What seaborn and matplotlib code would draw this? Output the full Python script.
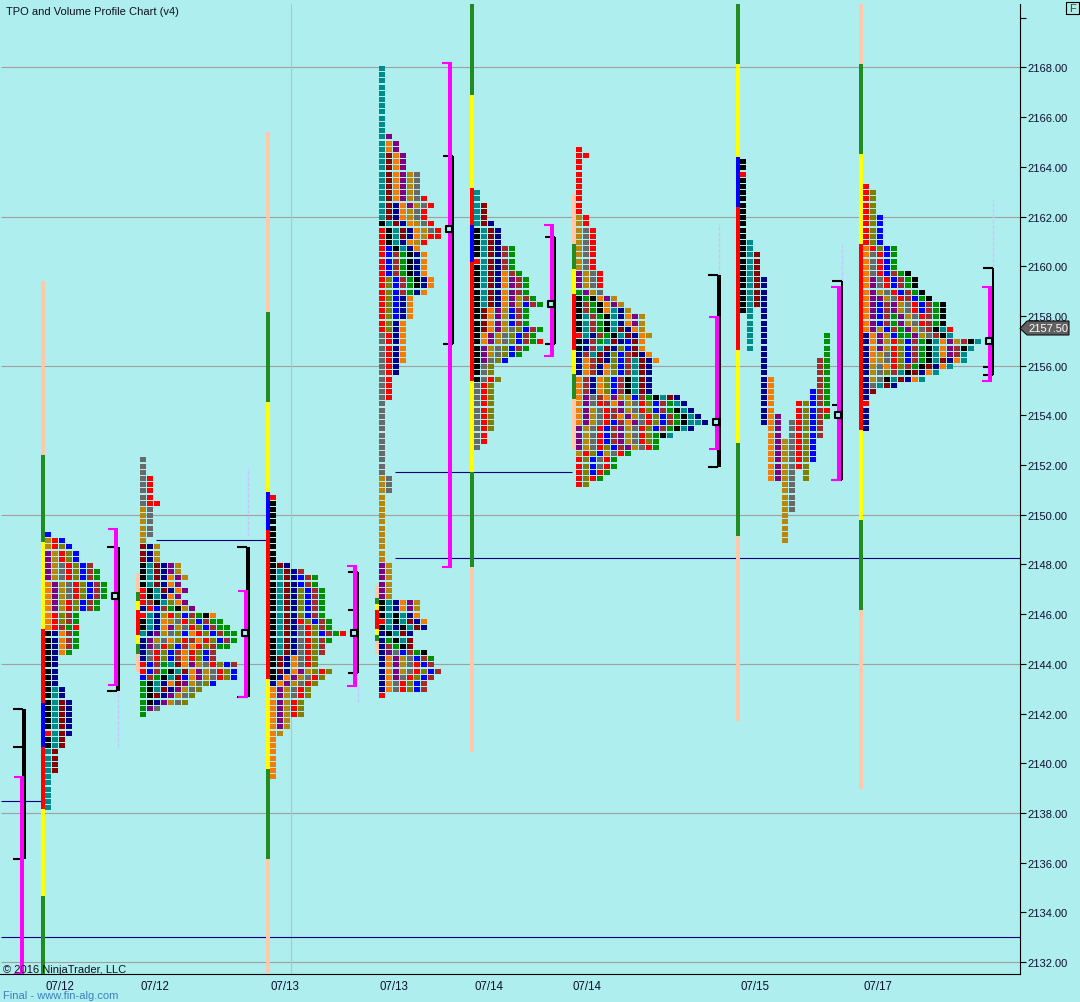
import numpy as np
import pandas as pd
import matplotlib
matplotlib.use("Agg")
import matplotlib.pyplot as plt
from matplotlib.path import Path
from matplotlib.patches import Polygon, Rectangle
import seaborn as sns

BG = "#AFEEEE"
PALETTE = {
    "R": "#FF0000", "D": "#8B0000", "B": "#A52A2A", "O": "#F57C00", "G": "#B8860B",
    "L": "#808000", "N": "#009000", "U": "#0000FF", "V": "#00008B", "P": "#800080",
    "T": "#008B8B", "K": "#000000", "Y": "#696969",
}
FOREST, YEL, RED, BLUE, PEACH = "#228B22", "#FFFF00", "#FF0000", "#0000FF", "#FFC8AA"

# one string per price row (0.25 apart), top row first; '.' is an empty slot
PROFILE_1 = ["U", "GRU", "GRLU", "PGRLU", "PGRLU", "PGYRLUB", "PGYRLUBN", "PGYRLUBN",
    "OPGYRLUBN", "OPGYRLUBN", "OPGYRLUBN", "OPGRLUBN", "OPGRLUBN", "ORLBN", "ORLBN", "ORBNR",
    "KVOBN", "KVOBN", "KVOBN", "KVON", "KV", "KV", "KV", "KV", "KV", "KTV", "KTV",
    "KTDV", "KTDV", "KTDV", "KTDV", "KTDV", "RTDV", "KTD", "KTD", "TD", "TD", "TD", "TD",
    "T", "T", "T", "T", "T", "T"]
PROFILE_2 = ["Y", "Y", "Y", "YR", "YR", "YR", "YR", "YRR", "GY", "GY", "GY", "GY", "GY", "G",
    "DVG", "DVG", "DVG", "KTDVPG", "KTDVPG", "KTDVOPG", "KTDVOP", "RKTDVOP", "RKTVOP", "RBKTLOP",
    "VRUBNKGP", "RTVGRLUBNKO", "KTVOGYRLUBNN", "KTVOPGYRLUBNN", "TVPGYLUORLUBNN", "VPGYOLRBORLUBN",
    "VPYRLUBORLBNN", "VYRLUBORLUB", "VYRLUBORLUB", "RUBNTDOPGYRLUB", "RUBNKTDOPGYRLU", "UBNKTDUOPGYRLU",
    "NKTVODPGYLU", "NKTDVPGYL", "NKDVPGYL", "NKVPGYL", "NPY", "N"]
PROFILE_3 = ["R", "K", "K", "K", "K", "K", "K", "K", "K", "K", "K", "KDV", "KTDVB", "KTDVUBN", "KTDVUBN",
    "KTDVLUBN", "KTDVLUBN", "KTDVLUBN", "KTDVLUBN", "KTDVLUBN", "KTDVRLUBN", "KTDVYRLBN", "KTDVYRLUBNR",
    "KTDVYRLBN", "KTDVYRLB", "KTDVYRLB", "KDVOYRL", "KDVOYRL", "KDVOPGLRL", "KVOPGYRL", "VOPGYRL",
    "OPGYRL", "OPGYRL", "OPGRL", "OPGRL", "OPGRL", "OPG", "OPG", "OG", "O", "O", "O", "O", "O", "O", "O"]
PROFILE_4 = ["T", "T", "T", "T", "T", "T", "T", "T", "T", "T", "T", "TP", "TOP", "TOP",
    "TDOP", "TDOP", "TDOP", "TDOPGY", "TDOPGY", "TDOPGY", "TDOPGY", "TDOPGYR", "TDVOPGYR", "TDVOGYR",
    "TDVOGYR", "KTDVOGYR", "RKTDVOGYR", "RKTDVOGRR", "RKTVOGR", "RUKTVO", "RUBNKVO", "RUBNKVO", "RUBNKVO",
    "RUBNKVO", "RLUBNKVO", "RLUBNKVO", "RLUBNVO", "RLUVO", "RLUVO", "RLUVO", "RLUVO", "RLVO", "RLVO",
    "YRVO", "YRVO", "YRVO", "YRVO", "YRVO", "YRV", "YRV", "YR", "YR", "YR", "YR",
    "Y", "Y", "Y", "Y", "Y", "Y", "Y", "Y", "Y", "Y", "Y", "Y", "GY", "GY", "GY",
    "G", "G", "G", "G", "G", "G", "G", "G", "G", "G", "G", "PG", "PG", "PG", "PG", "PG", "PG",
    "KTVOPG", "KTVOPG", "KTKTVO", "RTKTDVO", "KTVKTDV", "VKTDV", "VNKTD", "VBNKD", "VPYUBNK",
    "VOPGYUBN", "VOPGYRUB", "VOPGYRLUB", "VOPYRLUB", "VOYRLUB", "VOYRLUB", "R"]
PROFILE_5 = ["T", "T", "TD", "TD", "TD", "TDV", "KTDV", "KTDV", "KTDV", "KTDVBN", "KTDVBN", "RTDVBN",
    "KTDVBN", "KTDVOBN", "KTDVOPBN", "KTDVOPBN", "KTDVOPBN", "KTDVOPGBN", "KTDVOPGUBN", "KDOPGUBN",
    "KDOPGUBN", "KDOPGUBN", "KDOPGYLUBN", "KOPGYLUBN", "KOPGYLUBNR", "KPGYLUBN", "KPGYLUN", "KPYLU",
    "KYL", "KYL", "KYRL", "YRL", "YRL", "YRL", "YRL", "YRL", "YRL", "YRL", "YRL", "YR", "YR", "Y"]
PROFILE_6 = ["R", "RR", "R", "R", "R", "R", "R", "R", "R", "R", "R", "GR", "GR", "GYR", "GYR", "GYR", "GYR",
    "GYR", "GYR", "GYR", "PGYR", "PGYR", "PGYR", "NPGY", "KNKOPG", "KBNKOPG", "KBNKOTVG", "KTBNKTVOPG",
    "KTBNKTVOPG", "KTBNKTDVOG", "RTVBNKTDVOG", "KVBNTDVUDO", "KVBTDVLUDO", "VBTDVLUBDVO", "VOBDVLUBTDVO",
    "VOBVOLUBTDV", "VOBVOLUBTDV", "OBVOLUBKTDV", "OBVOLUBKTDV", "OBVOLUBKTDV", "OPYBOPGGUBNKTDV",
    "OPYRBOPGYRLUBNTV", "OPGYRBPGYRLUBNKTV", "OPGYRBOPGYRLUBNKTV", "OPGYRUBOPYRLUBNKTTV", "PGYRUBPGYRLUBNKTV",
    "PGYRUBPGYRLNKT", "PGYRUBPGYRLN", "PGYRLUBPGYRN", "GRLUGYRN", "RLUYRN", "RLUYRN", "RLURN", "RLRN", "RL"]
PROFILE_7 = ["K", "K", "R", "K", "K", "K", "K", "K", "K", "K", "K", "K", "K", "KT", "KT", "KTD", "KTD", "KTD",
    "KTD", "KTDV", "KTDV", "KTDV", "KTDV", "KTDV", "KT.V", ".T.V", ".T.V", ".T.V",
    ".T.V........N", ".T.V........N", ".T.V........N", "...V........N", "...V.......BN", "...V.......BN",
    "...V.......BN", "...VO......BN", "...VO......BN", "...VO.....UBN", "...VO.....UBN", "...VO...RLUBN",
    "...VO...RLUBR", "...VOP..RLUBN", "...VOP.YRLUB", "....OP.YRLUB", "....OP.YRLUB", "....OPGYRLU",
    "....OPGYRLU", "....OPGYRLU", "....OPGYRLU", "....OPGYRL", "....OPGY.L", "....OPGY.L",
    "......GY", "......GY", "......GY", "......GY", "......GY", "......G", "......G", "......G", "......G", "......G"]
PROFILE_8 = ["R", "RL", "RL", "RL", "RL", "RLU", "RLU", "RLU", "RLU", "RLU", "ORLUN", "OYRUN", "OYRUN", "OYRUN",
    "OYRUBNK", "OPYRUBNK", "OPYRUBNK", "OPGYRUBNK", "OPPGYRBUNK", "OPUBPGYRUBNK", "OPUBPGYRUBNK", "OPUBNPGYRBNK",
    "OPUBNPGYRBNK", "OPGUBNPGYBKTR", "VOPGUNNPGYBKT", "VOPGRLUBNKTOPGBKT", "VOPGRLUBNKTOPBKT", "VOGYRLUBNKTOPBT",
    "VOGYRLUBNKTDVOT", "VGYORLBNKDVOT", "VGYLBTKDVOT", "VGYKTDVOT", "VYTDV", "VD", "V", "R", "V", "V", "V", "V"]

PROFILES = [PROFILE_1, PROFILE_2, PROFILE_3, PROFILE_4, PROFILE_5, PROFILE_6, PROFILE_7, PROFILE_8]
PROFILE_LEFT = [45, 140, 270, 379, 474, 576, 740, 863]
PROFILE_TOP = [2149.25, 2152.25, 2150.75, 2168.0, 2163.0, 2164.75, 2164.25, 2163.25]

# session bars: price edges, top to bottom, and the colour of each stretch
BAR_X = [43, 138, 268, 377, 472, 574, 738, 861]
BAR_EDGES = [
    [2159.41, 2152.41, 2148.91, 2145.40, 2142.43, 2140.66, 2138.16, 2134.66, 2131.52],
    [2147.66, 2146.89, 2146.53, 2146.17, 2145.16, 2144.80, 2144.40, 2143.67],
    [2165.40, 2158.16, 2154.54, 2150.92, 2149.39, 2143.39, 2139.77, 2136.15, 2131.52],
    [2147.18, 2146.65, 2146.41, 2146.17, 2145.40, 2145.16, 2144.92, 2144.40],
    [2170.55, 2166.89, 2163.15, 2161.66, 2160.17, 2155.38, 2151.72, 2147.90, 2140.45],
    [2162.91, 2160.90, 2159.89, 2158.89, 2156.63, 2155.67, 2154.66, 2152.65],
    [2170.55, 2168.14, 2164.40, 2162.39, 2156.63, 2152.89, 2149.15, 2141.70],
    [2170.55, 2168.14, 2164.52, 2160.90, 2153.41, 2149.79, 2146.17, 2138.97],
]
BAR_COLORS = [
    [PEACH, FOREST, YEL, RED, BLUE, RED, YEL, FOREST],
    [PEACH, FOREST, YEL, RED, YEL, FOREST, PEACH],
    [PEACH, FOREST, YEL, BLUE, RED, YEL, FOREST, PEACH],
    [PEACH, FOREST, YEL, RED, YEL, FOREST, PEACH],
    [FOREST, YEL, RED, BLUE, RED, YEL, FOREST, PEACH],
    [PEACH, FOREST, YEL, RED, YEL, FOREST, PEACH],
    [FOREST, YEL, BLUE, RED, YEL, FOREST, PEACH],
    [PEACH, FOREST, YEL, RED, YEL, FOREST, PEACH],
]

# brackets: magenta value area, black range, extra black ticks, point of control
MAG_X = [22, 116, 246, 355, 450, 552, 717, 839, 990]
MAG_HI = [2139.45, 2149.43, 2146.93, 2147.94, 2168.18, 2161.66, 2157.96, 2159.17, 2159.17]
MAG_LO = [2131.52, 2143.15, 2142.67, 2143.11, 2147.90, 2156.39, 2152.65, 2151.40, 2155.38]
BLK_X = [24, 118, 248, 358, 453, 555, 719, 842, 993]
BLK_W = [4, 4, 4, 2, 2, 2, 4, 2, 2]
BLK_HI = [2142.19, 2148.70, 2148.70, 2147.70, 2164.44, 2161.18, 2159.65, 2159.41, 2159.93]
BLK_LO = [2136.15, 2142.91, 2142.67, 2143.63, 2156.87, 2156.87, 2151.92, 2151.40, 2155.63]
BLK_EXTRA = [[2140.66], [], [], [2146.17], [], [], [], [2154.42], [2155.95]]
POC_X = [None, 115, 245, 354, 449, 551, 716, 838, 989]
POC = [None, 2146.75, 2145.25, 2145.25, 2161.5, 2158.5, 2153.75, 2154.0, 2157.0]

# faint dashed volume traces
FAINT_X = [118, 248, 358, 719, 842, 993]
FAINT_HI = [2142.91, 2151.88, 2143.11, 2161.70, 2160.90, 2162.71]
FAINT_LO = [2140.66, 2149.15, 2142.47, 2159.65, 2159.41, 2159.93]

# naked lines
NAVY_Y = [2149.0, 2151.72, 2148.25, 2138.5, 2133.0]
NAVY_X0 = [156, 395, 395, 1, 1]
NAVY_X1 = [268, 572, 1020, 43, 1020]

GRID_PRICES = [2168, 2162, 2156, 2150, 2144, 2138, 2132]
PRICE_TICKS = list(range(2132, 2172, 2))
DATE_POS = [60, 155, 285, 394, 489, 587, 755, 878]
DATE_LABELS = ["07/12", "07/12", "07/13", "07/13", "07/14", "07/14", "07/15", "07/17"]

W, H = 1080, 1003
sns.set_style("white")
plt.rcParams["font.family"] = ["Liberation Sans", "DejaVu Sans"]
fig = plt.figure(figsize=(W / 100, H / 100), dpi=100, facecolor=BG)
ax = fig.add_axes([0, 1 - 975 / H, 1020 / W, 970 / H], facecolor=BG)
ax.set_xlim(0, 1020)
ax.set_ylim(2131.52, 2170.555)

# the original draws its cells one pixel below the exact price
CELL_NUDGE = 0.04
rows = []
for prof, left, top in zip(PROFILES, PROFILE_LEFT, PROFILE_TOP):
    for r, line in enumerate(prof):
        for c, ch in enumerate(line):
            if ch != ".":
                rows.append({"x": left + 3 + 7 * c, "price": top - 0.25 * r - CELL_NUDGE, "tpo": ch})
cells = pd.DataFrame(rows)

ax.hlines(GRID_PRICES, 1, 1020, color="#A0A0A0", lw=0.8, zorder=1)
ax.vlines(291, 2131.52, 2170.555, color="#BEBEBE", lw=0.8, zorder=1)

cell_marker = Path([(-3, -2.5), (3, -2.5), (3, 2.5), (-3, 2.5), (-3, -2.5)], closed=True)
sns.scatterplot(data=cells, x="x", y="price", hue="tpo", palette=PALETTE, marker=cell_marker,
                s=(6 * 0.72) ** 2, linewidth=0, legend=False, ax=ax, zorder=3, antialiased=False)
ax.set_xlabel("")
ax.set_ylabel("")

for x, edges, cols in zip(BAR_X, BAR_EDGES, BAR_COLORS):
    for hi, lo, col in zip(edges[:-1], edges[1:], cols):
        ax.bar(x, hi - lo, bottom=lo, width=4, color=col, lw=0, zorder=4, antialiased=False)

ax.hlines(NAVY_Y, NAVY_X0, NAVY_X1, color="#000080", lw=0.8, zorder=2)
ax.vlines(FAINT_X, FAINT_LO, FAINT_HI, color="#C4C8FF", lw=1.0, linestyles=(0, (3, 1)), zorder=2)

for i in range(len(MAG_X)):
    bx, bw = BLK_X[i], BLK_W[i]
    ax.bar(bx, BLK_HI[i] - BLK_LO[i], bottom=BLK_LO[i], width=bw, color="black", lw=0, zorder=5, antialiased=False)
    tick_end = bx - bw / 2
    ticks = [BLK_HI[i], BLK_LO[i]] + BLK_EXTRA[i]
    ax.hlines(ticks, tick_end - 9, tick_end + 1, color="black", lw=1.5, zorder=5)
    mx = MAG_X[i]
    ax.bar(mx, MAG_HI[i] - MAG_LO[i], bottom=MAG_LO[i], width=4, color="#FF00FF", lw=0, zorder=6, antialiased=False)
    ax.hlines([MAG_HI[i], MAG_LO[i]], mx - 8, mx + 2, color="#FF00FF", lw=1.5, zorder=6)
    if POC[i] is not None:
        ax.scatter([POC_X[i]], [POC[i]], marker="s", s=(6 * 0.72) ** 2, facecolor=BG,
                   edgecolor="black", linewidth=1.5, zorder=7)

for s in ["top", "left"]:
    ax.spines[s].set_visible(False)
for s in ["right", "bottom"]:
    ax.spines[s].set_visible(True)
    ax.spines[s].set_color("black")
    ax.spines[s].set_linewidth(0.8)

ax.yaxis.tick_right()
ax.set_yticks(PRICE_TICKS)
ax.set_yticklabels([f"{p}.00" if p < 2170 else "" for p in PRICE_TICKS], fontsize=8, color="#101030")
ax.tick_params(axis="y", right=True, length=4, width=0.8, color="black", pad=1)
ax.set_xticks(DATE_POS)
ax.set_xticklabels(DATE_LABELS, fontsize=8.3, color="#101030")
ax.tick_params(axis="x", bottom=False, length=0, pad=4)
ax.grid(False)


def px(x, y):
    return x / W, 1 - y / H


fig.text(*px(6, 12), "TPO and Volume Profile Chart (v4)", fontsize=8, color="#101020", va="center", ha="left")
fig.text(*px(3, 970), "\u00a9 2016 NinjaTrader, LLC", fontsize=8.05, color="#101020", va="center", ha="left", zorder=10)
fig.text(*px(3, 996), "Final - www.fin-alg.com", fontsize=8.05, color="#3C80C0", va="center", ha="left")

# last price tag and the F button, drawn in figure pixels
tag = Polygon([px(1020, 329.5), px(1027, 322), px(1069, 322), px(1069, 336), px(1027, 336)],
              closed=True, transform=fig.transFigure, facecolor="#606060", edgecolor="black", lw=0.7, zorder=10)
fig.add_artist(tag)
fig.text(*px(1048, 329.5), "2157.50", fontsize=8, color="white", va="center", ha="center", zorder=11)
fig.add_artist(Rectangle(px(1066, 15), 13 / W, 12 / H, transform=fig.transFigure,
                         facecolor=BG, edgecolor="black", lw=0.8, zorder=10))
fig.text(*px(1072.5, 9), "F", fontsize=8, color="#504010", va="center", ha="center", zorder=11)

fig.savefig("out.png", dpi=100, facecolor=BG)
